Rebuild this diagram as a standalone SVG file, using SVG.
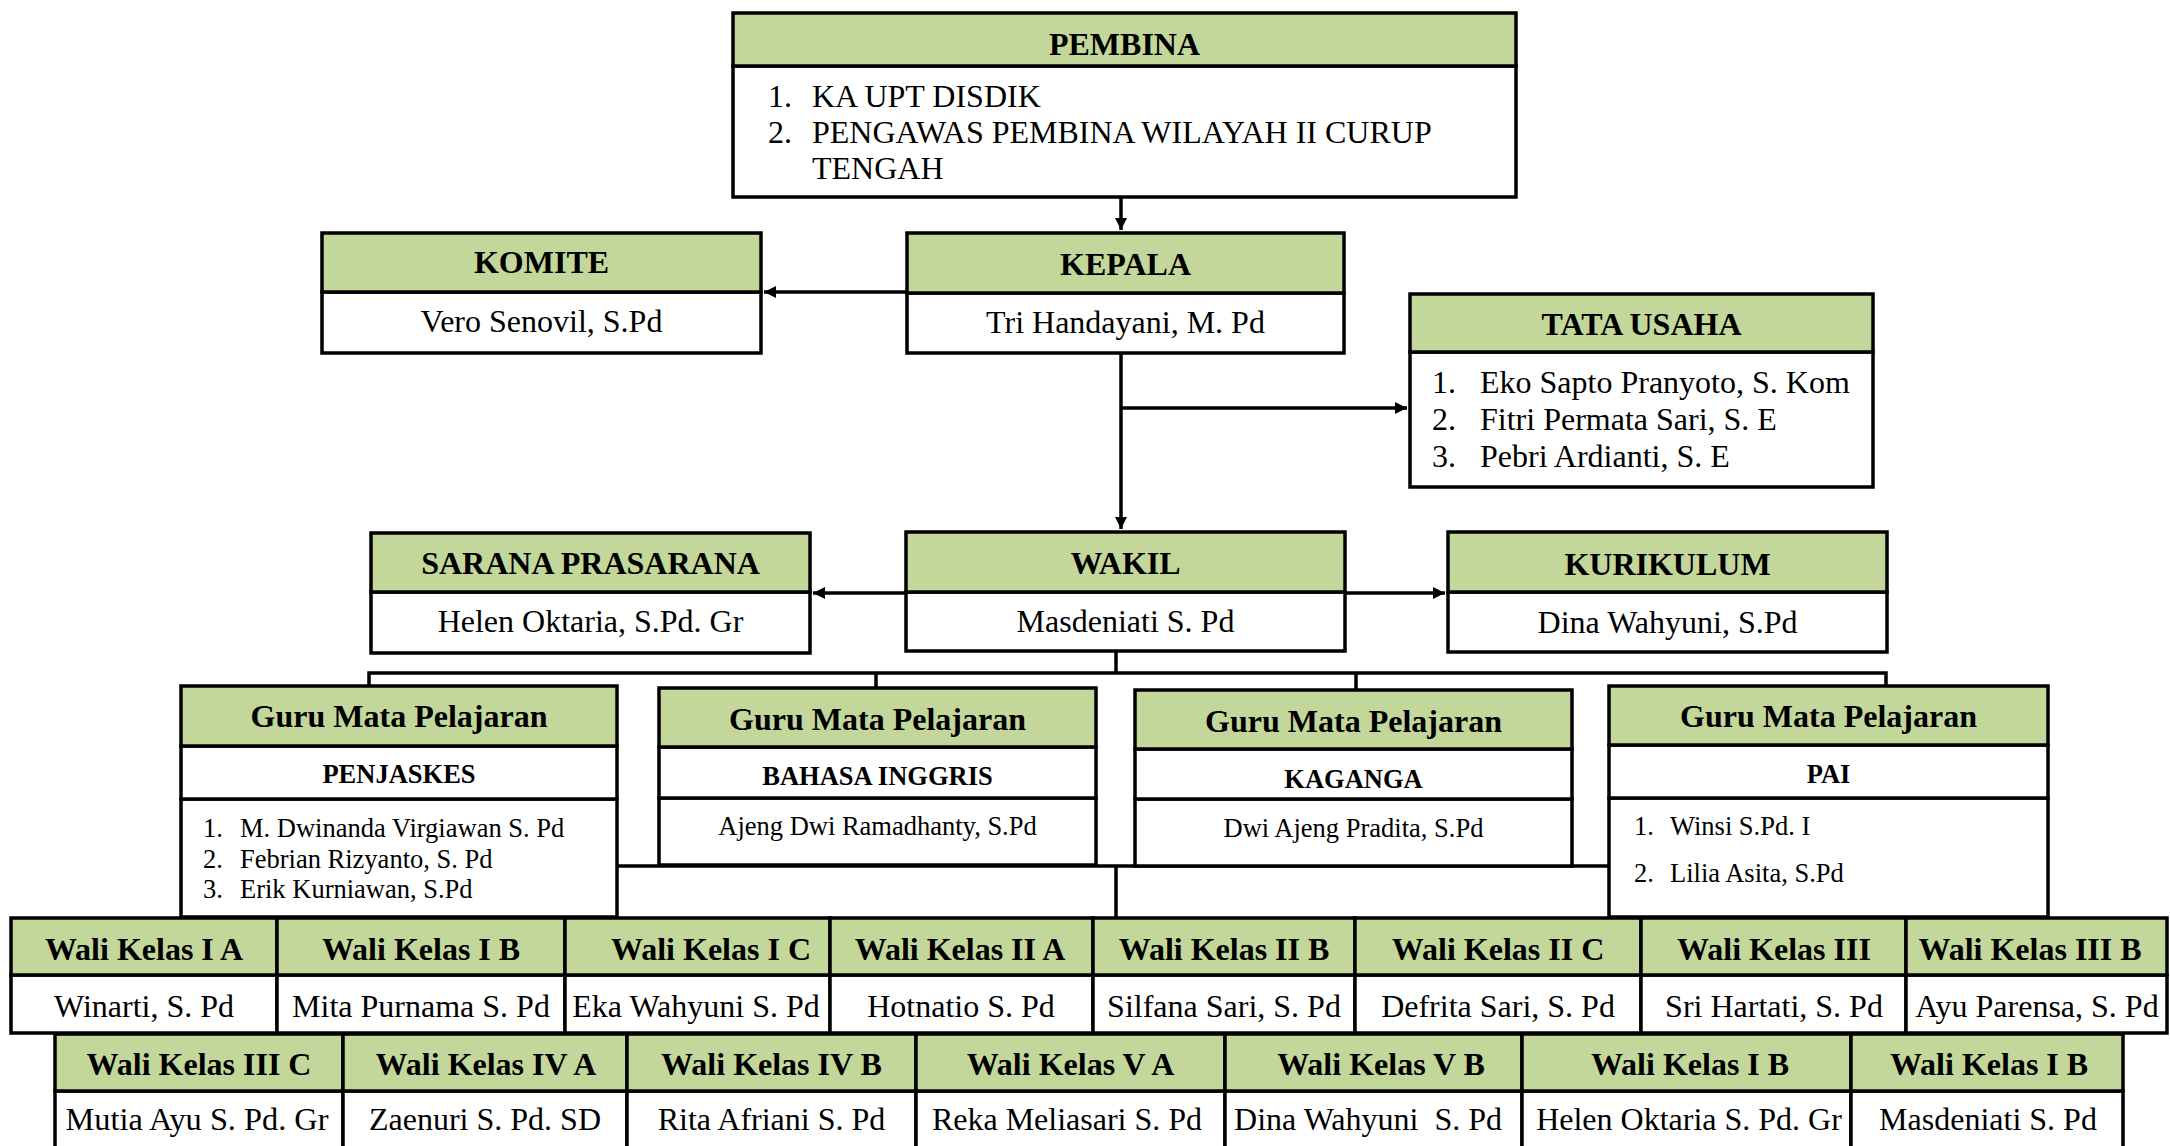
<svg xmlns="http://www.w3.org/2000/svg" width="2170" height="1146" viewBox="0 0 2170 1146">
<style>
.hd{fill:#C4D79B;stroke:#000;stroke-width:3.5}
.bd{fill:#fff;stroke:#000;stroke-width:3.5}
.tb{font-family:"Liberation Serif","Times New Roman",serif;font-weight:bold;font-size:32px;text-anchor:middle;fill:#000}
.tr{font-family:"Liberation Serif","Times New Roman",serif;font-size:32px;text-anchor:middle;fill:#000}
.tl{font-family:"Liberation Serif","Times New Roman",serif;font-size:32px;fill:#000}
.sb{font-family:"Liberation Serif","Times New Roman",serif;font-weight:bold;font-size:26.5px;text-anchor:middle;fill:#000}
.sr{font-family:"Liberation Serif","Times New Roman",serif;font-size:26.5px;text-anchor:middle;fill:#000}
.sl{font-family:"Liberation Serif","Times New Roman",serif;font-size:26.5px;fill:#000}
.cn{stroke:#000;stroke-width:3.5;fill:none}
</style>
<defs>
<marker id="ah" viewBox="0 0 10 10" refX="10" refY="5" markerWidth="15" markerHeight="12" markerUnits="userSpaceOnUse" orient="auto"><path d="M0,0L10,5L0,10z" fill="#000"/></marker>
</defs>
<rect width="2170" height="1146" fill="#fff"/>

<g id="connectors">
<path class="cn" d="M1121,197V230" marker-end="url(#ah)"/>
<path class="cn" d="M907,292H764" marker-end="url(#ah)"/>
<path class="cn" d="M1121,353V529" marker-end="url(#ah)"/>
<path class="cn" d="M1121,408H1407" marker-end="url(#ah)"/>
<path class="cn" d="M906,593H813" marker-end="url(#ah)"/>
<path class="cn" d="M1345,593H1445" marker-end="url(#ah)"/>
<path class="cn" d="M1116,651V673M369,686V673H1886V686M876,673V688M1356,673V690"/>
<path class="cn" d="M617,866H1609M1116,866V918"/>
</g>

<g id="pembina">
<rect class="bd" x="733" y="66" width="783" height="131"/>
<rect class="hd" x="733" y="13" width="783" height="53"/>
<text class="tb" x="1124.5" y="55">PEMBINA</text>
<text class="tl" x="768" y="107">1.</text><text class="tl" x="812" y="107">KA UPT DISDIK</text>
<text class="tl" x="768" y="143">2.</text><text class="tl" x="812" y="143">PENGAWAS PEMBINA WILAYAH II CURUP</text>
<text class="tl" x="812" y="179">TENGAH</text>
</g>

<g id="kepala">
<rect class="bd" x="907" y="293" width="437" height="60"/>
<rect class="hd" x="907" y="233" width="437" height="60"/>
<text class="tb" x="1125.5" y="275">KEPALA</text>
<text class="tr" x="1125.5" y="333">Tri Handayani, M. Pd</text>
</g>

<g id="komite">
<rect class="bd" x="322" y="292" width="439" height="61"/>
<rect class="hd" x="322" y="233" width="439" height="59"/>
<text class="tb" x="541.5" y="273">KOMITE</text>
<text class="tr" x="541.5" y="332">Vero Senovil, S.Pd</text>
</g>

<g id="tata-usaha">
<rect class="bd" x="1410" y="352" width="463" height="135"/>
<rect class="hd" x="1410" y="294" width="463" height="58"/>
<text class="tb" x="1641.5" y="335">TATA USAHA</text>
<text class="tl" x="1432" y="393">1.</text><text class="tl" x="1480" y="393">Eko Sapto Pranyoto, S. Kom</text>
<text class="tl" x="1432" y="430">2.</text><text class="tl" x="1480" y="430">Fitri Permata Sari, S. E</text>
<text class="tl" x="1432" y="467">3.</text><text class="tl" x="1480" y="467">Pebri Ardianti, S. E</text>
</g>

<g id="wakil">
<rect class="bd" x="906" y="592" width="439" height="59"/>
<rect class="hd" x="906" y="532" width="439" height="60"/>
<text class="tb" x="1125.5" y="574">WAKIL</text>
<text class="tr" x="1125.5" y="632">Masdeniati S. Pd</text>
</g>

<g id="sarana-prasarana">
<rect class="bd" x="371" y="592" width="439" height="61"/>
<rect class="hd" x="371" y="533" width="439" height="59"/>
<text class="tb" x="590.5" y="574">SARANA PRASARANA</text>
<text class="tr" x="590.5" y="632">Helen Oktaria, S.Pd. Gr</text>
</g>

<g id="kurikulum">
<rect class="bd" x="1448" y="592" width="439" height="60"/>
<rect class="hd" x="1448" y="532" width="439" height="60"/>
<text class="tb" x="1667.5" y="575">KURIKULUM</text>
<text class="tr" x="1667.5" y="633">Dina Wahyuni, S.Pd</text>
</g>

<g id="guru-penjaskes">
<rect class="bd" x="181" y="799" width="436" height="118"/>
<rect class="bd" x="181" y="746" width="436" height="53"/>
<rect class="hd" x="181" y="686" width="436" height="60"/>
<text class="tb" x="399" y="727">Guru Mata Pelajaran</text>
<text class="sb" x="399" y="783">PENJASKES</text>
<text class="sl" x="203" y="837">1.</text><text class="sl" x="240" y="837">M. Dwinanda Virgiawan S. Pd</text>
<text class="sl" x="203" y="868">2.</text><text class="sl" x="240" y="868">Febrian Rizyanto, S. Pd</text>
<text class="sl" x="203" y="898">3.</text><text class="sl" x="240" y="898">Erik Kurniawan, S.Pd</text>
</g>

<g id="guru-bahasa-inggris">
<rect class="bd" x="659" y="798" width="437" height="67"/>
<rect class="bd" x="659" y="747" width="437" height="51"/>
<rect class="hd" x="659" y="688" width="437" height="59"/>
<text class="tb" x="877.5" y="730">Guru Mata Pelajaran</text>
<text class="sb" x="877.5" y="785">BAHASA INGGRIS</text>
<text class="sr" x="877.5" y="835">Ajeng Dwi Ramadhanty, S.Pd</text>
</g>

<g id="guru-kaganga">
<rect class="bd" x="1135" y="799" width="437" height="67"/>
<rect class="bd" x="1135" y="749" width="437" height="50"/>
<rect class="hd" x="1135" y="690" width="437" height="59"/>
<text class="tb" x="1353.5" y="732">Guru Mata Pelajaran</text>
<text class="sb" x="1353.5" y="788">KAGANGA</text>
<text class="sr" x="1353.5" y="837">Dwi Ajeng Pradita, S.Pd</text>
</g>

<g id="guru-pai">
<rect class="bd" x="1609" y="798" width="439" height="119"/>
<rect class="bd" x="1609" y="745" width="439" height="53"/>
<rect class="hd" x="1609" y="686" width="439" height="59"/>
<text class="tb" x="1828.5" y="727">Guru Mata Pelajaran</text>
<text class="sb" x="1828.5" y="783">PAI</text>
<text class="sl" x="1634" y="835">1.</text><text class="sl" x="1670" y="835">Winsi S.Pd. I</text>
<text class="sl" x="1634" y="882">2.</text><text class="sl" x="1670" y="882">Lilia Asita, S.Pd</text>
</g>

<g id="wali-1a"><rect class="bd" x="11" y="975" width="266" height="58"/><rect class="hd" x="11" y="918" width="266" height="57"/><text class="tb" x="144" y="960">Wali Kelas I A</text><text class="tr" x="144" y="1017">Winarti, S. Pd</text></g>
<g id="wali-1b"><rect class="bd" x="277" y="975" width="288" height="58"/><rect class="hd" x="277" y="918" width="288" height="57"/><text class="tb" x="421" y="960">Wali Kelas I B</text><text class="tr" x="421" y="1017">Mita Purnama S. Pd</text></g>
<g id="wali-1c"><rect class="bd" x="565" y="975" width="265" height="58"/><rect class="hd" x="565" y="918" width="265" height="57"/><text class="tb" x="711" y="960">Wali Kelas I C</text><text class="tr" x="696" y="1017">Eka Wahyuni S. Pd</text></g>
<g id="wali-2a"><rect class="bd" x="830" y="975" width="263" height="58"/><rect class="hd" x="830" y="918" width="263" height="57"/><text class="tb" x="960" y="960">Wali Kelas II A</text><text class="tr" x="961" y="1017">Hotnatio S. Pd</text></g>
<g id="wali-2b"><rect class="bd" x="1093" y="975" width="262" height="58"/><rect class="hd" x="1093" y="918" width="262" height="57"/><text class="tb" x="1224" y="960">Wali Kelas II B</text><text class="tr" x="1224" y="1017">Silfana Sari, S. Pd</text></g>
<g id="wali-2c"><rect class="bd" x="1355" y="975" width="286" height="58"/><rect class="hd" x="1355" y="918" width="286" height="57"/><text class="tb" x="1498" y="960">Wali Kelas II C</text><text class="tr" x="1498" y="1017">Defrita Sari, S. Pd</text></g>
<g id="wali-3"><rect class="bd" x="1641" y="975" width="265" height="58"/><rect class="hd" x="1641" y="918" width="265" height="57"/><text class="tb" x="1774" y="960">Wali Kelas III</text><text class="tr" x="1774" y="1017">Sri Hartati, S. Pd</text></g>
<g id="wali-3b"><rect class="bd" x="1906" y="975" width="261" height="58"/><rect class="hd" x="1906" y="918" width="261" height="57"/><text class="tb" x="2030" y="960">Wali Kelas III B</text><text class="tr" x="2037" y="1017">Ayu Parensa, S. Pd</text></g>

<g id="wali-3c"><rect class="bd" x="55" y="1091" width="288" height="60"/><rect class="hd" x="55" y="1034" width="288" height="57"/><text class="tb" x="199" y="1075">Wali Kelas III C</text><text class="tr" x="197" y="1130" textLength="263" lengthAdjust="spacingAndGlyphs">Mutia Ayu S. Pd. Gr</text></g>
<g id="wali-4a"><rect class="bd" x="343" y="1091" width="284" height="60"/><rect class="hd" x="343" y="1034" width="284" height="57"/><text class="tb" x="486" y="1075">Wali Kelas IV A</text><text class="tr" x="485" y="1130">Zaenuri S. Pd. SD</text></g>
<g id="wali-4b"><rect class="bd" x="627" y="1091" width="289" height="60"/><rect class="hd" x="627" y="1034" width="289" height="57"/><text class="tb" x="771.5" y="1075">Wali Kelas IV B</text><text class="tr" x="771.5" y="1130">Rita Afriani S. Pd</text></g>
<g id="wali-5a"><rect class="bd" x="916" y="1091" width="309" height="60"/><rect class="hd" x="916" y="1034" width="309" height="57"/><text class="tb" x="1070.5" y="1075">Wali Kelas V A</text><text class="tr" x="1067" y="1130">Reka Meliasari S. Pd</text></g>
<g id="wali-5b"><rect class="bd" x="1225" y="1091" width="297" height="60"/><rect class="hd" x="1225" y="1034" width="297" height="57"/><text class="tb" x="1381" y="1075">Wali Kelas V B</text><text class="tr" x="1368" y="1130" style="white-space:pre">Dina Wahyuni  S. Pd</text></g>
<g id="wali-1b-2"><rect class="bd" x="1522" y="1091" width="329" height="60"/><rect class="hd" x="1522" y="1034" width="329" height="57"/><text class="tb" x="1690" y="1075">Wali Kelas I B</text><text class="tr" x="1689" y="1130">Helen Oktaria S. Pd. Gr</text></g>
<g id="wali-1b-3"><rect class="bd" x="1851" y="1091" width="272" height="60"/><rect class="hd" x="1851" y="1034" width="272" height="57"/><text class="tb" x="1989" y="1075">Wali Kelas I B</text><text class="tr" x="1988" y="1130">Masdeniati S. Pd</text></g>
</svg>
